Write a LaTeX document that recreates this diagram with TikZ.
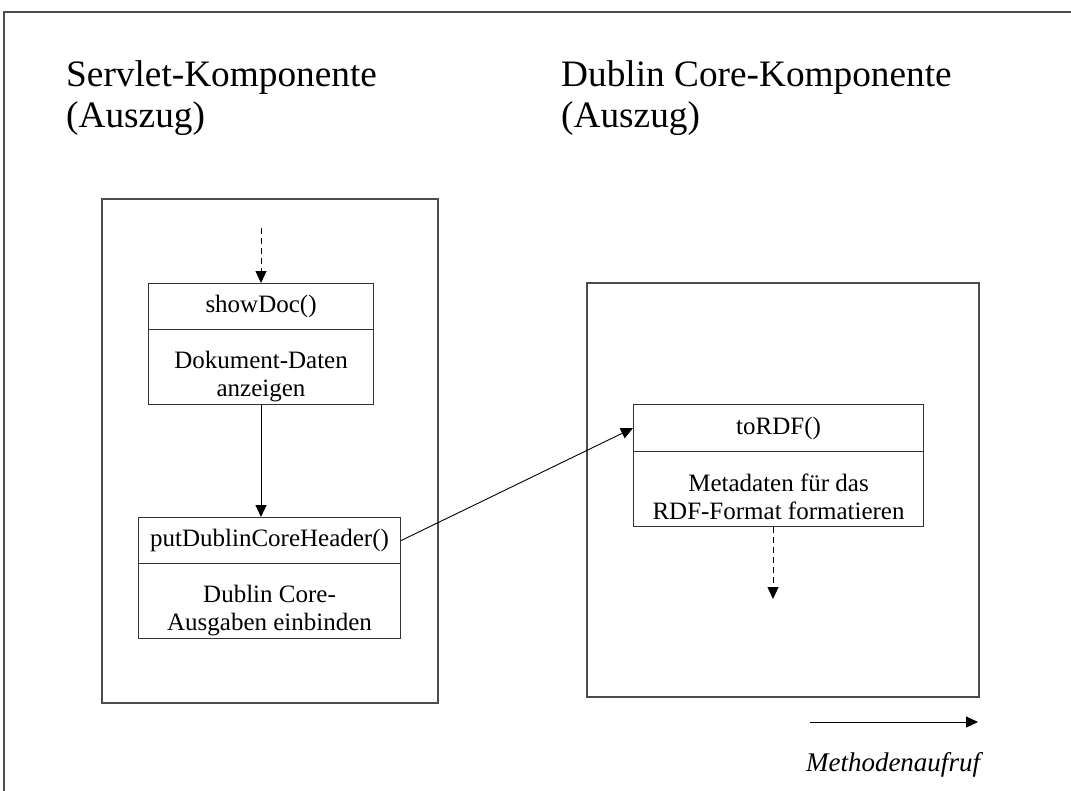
\documentclass[tikz,border=0pt]{standalone}
\usepackage{fontspec}
\setmainfont{Liberation Serif}
\usetikzlibrary{arrows.meta}
\newcommand{\firstline}{\rule{0pt}{37pt}}
\begin{document}
\begin{tikzpicture}[x=1pt,y=-1pt,
  frame/.style={draw=black!70,line width=1.6pt},
  comp/.style={draw=black!70,line width=1.6pt},
  mhead/.style={draw=black!80,line width=1.1pt,anchor=north west,inner sep=0pt,
    font=\fontsize{25}{27}\selectfont},
  mbody/.style={draw=black!80,line width=1.1pt,anchor=north west,inner sep=0pt,
    align=center,font=\fontsize{25}{28}\selectfont},
  title/.style={anchor=north west,inner sep=0pt,align=left,
    font=\fontsize{37.3}{41}\selectfont},
  call/.style={line width=0.9pt,-{Triangle[length=12pt,width=11pt]}},
  flow/.style={call,dashed,dash pattern=on 6pt off 4pt}]
\useasboundingbox (0,0) rectangle (1071,790);
% outer frame, running off the page to the right and bottom
\draw[frame] (4,800) -- (4,12) -- (1080,12);

% headings
\node[title] (t1) at (66,60) {Servlet-Komponente\\(Auszug)};
\node[title] (t2) at (561,60) {Dublin Core-Komponente\\(Auszug)};

% component frames
\draw[comp] (102,199) rectangle (438,703);
\draw[comp] (587,283) rectangle (979,697);

% servlet methods
\node[mhead,minimum width=225pt,minimum height=46pt] (sh) at (148,283) {showDoc()};
\node[mbody,minimum width=225pt,minimum height=75pt] (sb) at (148,329)
  {\firstline Dokument-Daten\\anzeigen};
\node[mhead,minimum width=262pt,minimum height=46pt] (ph) at (138,517) {putDublinCoreHeader()};
\node[mbody,minimum width=262pt,minimum height=75pt] (pb) at (138,563)
  {\firstline Dublin Core-\\Ausgaben einbinden};

% dublin core method
\node[mhead,minimum width=290pt,minimum height=47pt] (rh) at (633,404) {toRDF()};
\node[mbody,minimum width=290pt,minimum height=75pt] (rb) at (633,451)
  {\rule{0pt}{33pt}Metadaten für das\\RDF-Format formatieren};

% calls and control flow
\coordinate (in) at (261,228);
\coordinate (out) at (773,599);
\draw[flow] (in) -- (in |- sh.north);
\draw[call] (in |- sb.south) -- (in |- ph.north);
\draw[call] (ph.east) -- (rh.west);
\draw[flow] (out |- rb.south) -- (out);

% legend
\coordinate (l1) at (810,722);
\coordinate (l2) at (978,722);
\draw[call] (l1) -- (l2);
\node[anchor=base,inner sep=0pt,font=\fontsize{27}{30}\selectfont\itshape] (lg) at (893,771) {Methodenaufruf};
\end{tikzpicture}
\end{document}
